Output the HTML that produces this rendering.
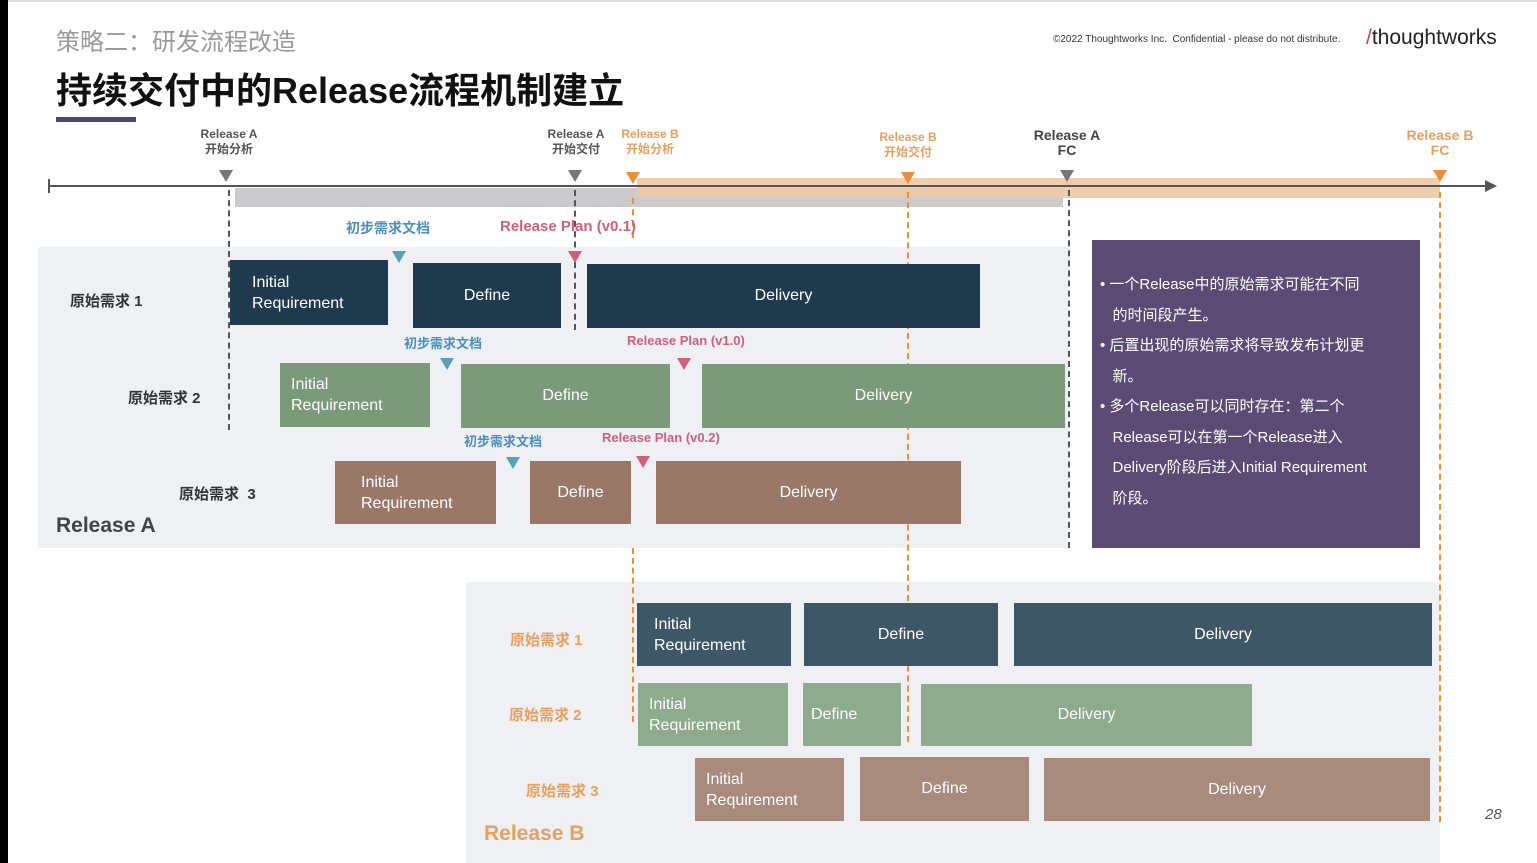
<!DOCTYPE html>
<html><head><meta charset="utf-8"><style>
body{margin:0;width:1537px;height:863px;background:#fff;position:relative;overflow:hidden;font-family:"Liberation Sans","Noto Sans CJK SC",sans-serif}
.a{position:absolute}
.b{position:absolute;color:#fff;font-size:16px;display:flex;align-items:center;box-sizing:border-box}
.c{justify-content:center}
.l{padding-left:22px;line-height:21px}
.n{background:#1f3a4d}.g{background:#7b9a7a}.r{background:#9a7867}
.n2{background:#3e5766}.g2{background:#8eab8e}.r2{background:#a88b7c}
.lab{position:absolute;font-size:12px;font-weight:bold;text-align:center;line-height:15px}
.tri{position:absolute;width:0;height:0;border-left:7px solid transparent;border-right:7px solid transparent;border-top:12px solid #777}
.vd{position:absolute;width:0;border-left:2px dashed #555}
.req{position:absolute;font-size:15px;font-weight:bold;color:#333}
.reqb{position:absolute;font-size:15px;font-weight:bold;color:#e8a060}
.bl{position:absolute;font-size:14px;font-weight:bold;color:#4b8fc0}
.pk{position:absolute;font-size:14px;font-weight:bold;color:#d0607a}
</style></head><body>
<div class="a" style="left:0;top:0;width:1537px;height:2px;background:#ddd"></div>
<div class="a" style="left:0;top:0;width:8px;height:863px;background:#000"></div>
<div class="a" style="left:56px;top:22px;font-size:24px;color:#999">策略二：研发流程改造</div>
<div class="a" style="left:56px;top:62px;font-size:36px;font-weight:bold;color:#111">持续交付中的Release流程机制建立</div>
<div class="a" style="left:56px;top:117px;width:80px;height:5px;background:#4e4670"></div>
<div class="a" style="left:1053px;top:34px;font-size:10px;color:#333">©2022 Thoughtworks Inc.&nbsp; Confidential - please do not distribute.</div>
<div class="a" style="left:1366px;top:26px;font-size:21px;color:#222"><span style="color:#c0446a">/</span>thoughtworks</div>

<!-- bands -->
<div class="a" style="left:235px;top:188px;width:828px;height:19px;background:#cbcbcd"></div>
<div class="a" style="left:637px;top:178px;width:803px;height:20px;background:#eec8a6;opacity:.9"></div>
<div class="a" style="left:48px;top:185px;width:1440px;height:2px;background:#555"></div>
<div class="a" style="left:48px;top:179px;width:2px;height:14px;background:#555"></div>
<div class="a" style="left:1485px;top:180px;width:0;height:0;border-top:6px solid transparent;border-bottom:6px solid transparent;border-left:12px solid #555"></div>

<!-- labels -->
<div class="lab" style="left:189px;top:127px;width:80px;color:#555">Release A<br>开始分析</div>
<div class="lab" style="left:536px;top:127px;width:80px;color:#555">Release A<br>开始交付</div>
<div class="lab" style="left:610px;top:127px;width:80px;color:#e8a060">Release B<br>开始分析</div>
<div class="lab" style="left:868px;top:130px;width:80px;color:#e8a060">Release B<br>开始交付</div>
<div class="lab" style="left:1022px;top:128px;width:90px;color:#444;font-size:14px">Release A<br>FC</div>
<div class="lab" style="left:1395px;top:128px;width:90px;color:#e8a060;font-size:14px">Release B<br>FC</div>
<div class="tri" style="left:219px;top:170px"></div>
<div class="tri" style="left:568px;top:170px"></div>
<div class="tri" style="left:626px;top:172px;border-top-color:#e8903a"></div>
<div class="tri" style="left:901px;top:172px;border-top-color:#e8903a"></div>
<div class="tri" style="left:1060px;top:170px"></div>
<div class="tri" style="left:1433px;top:170px;border-top-color:#e8903a"></div>

<!-- panels -->
<div class="a" style="left:38px;top:247px;width:1030px;height:301px;background:#eef0f3"></div>
<div class="a" style="left:466px;top:582px;width:974px;height:281px;background:#eef0f3"></div>

<!-- dashed lines -->
<div class="vd" style="left:228px;top:190px;height:240px"></div>
<div class="vd" style="left:574px;top:190px;height:140px"></div>
<div class="vd" style="left:632px;top:198px;height:40px;border-color:#e8903a"></div>
<div class="vd" style="left:632px;top:548px;height:174px;border-color:#e8903a"></div>
<div class="vd" style="left:907px;top:192px;height:550px;border-color:#e8903a"></div>
<div class="vd" style="left:1068px;top:190px;height:358px"></div>
<div class="vd" style="left:1439px;top:192px;height:630px;border-color:#e8903a"></div>

<!-- Release A -->
<div class="bl" style="left:346px;top:218px">初步需求文档</div>
<div class="pk" style="left:500px;top:218px;font-size:15px">Release Plan (v0.1)</div>
<div class="tri" style="left:392px;top:251px;border-top-color:#5aa0b8"></div>
<div class="tri" style="left:568px;top:251px;border-top-color:#d0607a"></div>
<div class="req" style="left:70px;top:290px">原始需求 1</div>
<div class="b n l" style="left:230px;top:260px;width:158px;height:65px">Initial<br>Requirement</div>
<div class="b n c" style="left:413px;top:263px;width:148px;height:65px">Define</div>
<div class="b n c" style="left:587px;top:264px;width:393px;height:64px">Delivery</div>

<div class="bl" style="left:404px;top:333px;font-size:13px">初步需求文档</div>
<div class="pk" style="left:627px;top:333px;font-size:13px">Release Plan (v1.0)</div>
<div class="tri" style="left:440px;top:358px;border-top-color:#5aa0b8"></div>
<div class="tri" style="left:677px;top:358px;border-top-color:#d0607a"></div>
<div class="req" style="left:128px;top:387px">原始需求 2</div>
<div class="b g l" style="left:280px;top:363px;width:150px;height:64px;padding-left:11px">Initial<br>Requirement</div>
<div class="b g c" style="left:461px;top:364px;width:209px;height:64px">Define</div>
<div class="b g c" style="left:702px;top:364px;width:363px;height:64px">Delivery</div>

<div class="bl" style="left:464px;top:431px;font-size:13px">初步需求文档</div>
<div class="pk" style="left:602px;top:430px;font-size:13px">Release Plan (v0.2)</div>
<div class="tri" style="left:506px;top:457px;border-top-color:#5aa0b8"></div>
<div class="tri" style="left:636px;top:456px;border-top-color:#d0607a"></div>
<div class="req" style="left:179px;top:483px">原始需求 &nbsp;3</div>
<div class="b r l" style="left:335px;top:461px;width:161px;height:63px;padding-left:26px">Initial<br>Requirement</div>
<div class="b r c" style="left:530px;top:461px;width:101px;height:63px">Define</div>
<div class="b r c" style="left:656px;top:461px;width:305px;height:63px">Delivery</div>
<div class="a" style="left:56px;top:514px;font-size:21px;font-weight:bold;color:#444">Release A</div>

<!-- purple -->
<div class="a" style="left:1092px;top:240px;width:328px;height:308px;background:#5b4b74;color:#fff;font-size:15px;line-height:30.5px;box-sizing:border-box;padding:30px 10px 0 8px">
<div>• 一个Release中的原始需求可能在不同<br>&nbsp;&nbsp;&nbsp;的时间段产生。</div>
<div>• 后置出现的原始需求将导致发布计划更<br>&nbsp;&nbsp;&nbsp;新。</div>
<div>• 多个Release可以同时存在：第二个<br>&nbsp;&nbsp;&nbsp;Release可以在第一个Release进入<br>&nbsp;&nbsp;&nbsp;Delivery阶段后进入Initial Requirement<br>&nbsp;&nbsp;&nbsp;阶段。</div>
</div>

<!-- Release B -->
<div class="reqb" style="left:510px;top:629px">原始需求 1</div>
<div class="b n2 l" style="left:637px;top:603px;width:154px;height:63px;padding-left:17px">Initial<br>Requirement</div>
<div class="b n2 c" style="left:804px;top:603px;width:194px;height:63px">Define</div>
<div class="b n2 c" style="left:1014px;top:603px;width:418px;height:63px">Delivery</div>
<div class="reqb" style="left:509px;top:704px">原始需求 2</div>
<div class="b g2 l" style="left:638px;top:683px;width:150px;height:63px;padding-left:11px">Initial<br>Requirement</div>
<div class="b g2" style="left:803px;top:683px;width:98px;height:63px;padding-left:8px">Define</div>
<div class="b g2 c" style="left:921px;top:684px;width:331px;height:62px">Delivery</div>
<div class="reqb" style="left:526px;top:780px">原始需求 3</div>
<div class="b r2 l" style="left:695px;top:758px;width:149px;height:63px;padding-left:11px">Initial<br>Requirement</div>
<div class="b r2 c" style="left:860px;top:757px;width:169px;height:64px">Define</div>
<div class="b r2 c" style="left:1044px;top:758px;width:386px;height:63px">Delivery</div>
<div class="a" style="left:484px;top:822px;font-size:21px;font-weight:bold;color:#e8a060">Release B</div>
<div class="a" style="left:1485px;top:806px;font-size:15px;font-style:italic;color:#555">28</div>
</body></html>
